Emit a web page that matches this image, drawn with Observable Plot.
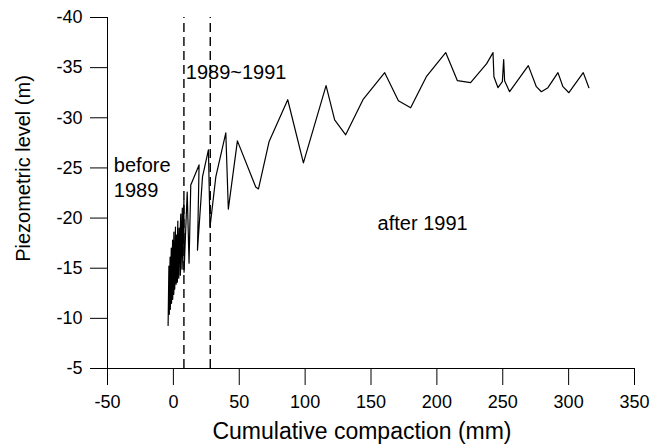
<!DOCTYPE html>
<html><head><meta charset="utf-8">
<script src="https://cdn.jsdelivr.net/npm/d3@7"></script>
<script src="https://cdn.jsdelivr.net/npm/@observablehq/plot@0.6"></script>
<style>
html,body{margin:0;padding:0;background:#fff;}
#chart svg{display:block;}
</style></head><body><div id="chart"></div>
<script>
// Cumulative compaction (mm) and piezometric level (m)
const compaction = [
  -4.0,-3.4,-3.1,-2.5,-2.3,-1.6,-1.4,-0.6,-0.5,0.4,0.3,1.6,1.0,2.4,2.1,3.4,3.0,4.4,4.1,5.6,5.3,6.8,6.6,8.0,8.1,
  10.5,11.9,13.2,19.5,18.3,22.1,26.6,27.8,
  32.2,39.8,41.7,48.6,62.5,64.6,72.6,86.8,98.7,115.9,122.4,130.8,143.9,160.4,170.8,180.1,192.0,206.7,215.6,225.6,
  237.8,242.6,243.3,246.4,249.7,250.7,251.4,255.2,269.4,275.5,279.3,284.3,291.9,295.7,300.2,311.1,315.4
];
const level = [
  -9.3,-15.2,-10.4,-16.1,-10.9,-17.0,-11.5,-17.8,-11.9,-18.6,-12.4,-19.1,-12.9,-18.3,-13.4,-19.7,-13.6,-19.0,-14.0,-20.4,-14.3,-21.0,-14.9,-21.8,-14.6,
  -22.6,-15.5,-23.3,-25.3,-16.8,-24.1,-26.8,-19.1,
  -24.1,-28.5,-20.9,-27.7,-23.1,-22.9,-27.6,-31.8,-25.5,-33.2,-29.8,-28.3,-31.8,-34.5,-31.7,-31.0,-34.1,-36.5,-33.7,-33.5,
  -35.4,-36.5,-34.1,-33.0,-33.6,-35.8,-33.7,-32.6,-35.2,-33.1,-32.6,-33.0,-34.5,-33.1,-32.5,-34.5,-33.0
];
const dividers = [8, 28];
const xTicks = [-50, 0, 50, 100, 150, 200, 250, 300, 350];
const yTicks = [-40, -35, -30, -25, -20, -15, -10, -5];
const periodLabels = ["before\n1989", "1989~1991", "after 1991"];
const labelX = [-45.2, 9.4, 155];
const labelY = [-22.1, -33.9, -18.8];
const xTitle = "Cumulative compaction (mm)";
const yTitle = "Piezometric level (m)";

const font = "'Liberation Sans', Arial, Helvetica, sans-serif";
const idx = d3.range(compaction.length);

const chart = Plot.plot({
  width: 662, height: 446,
  marginLeft: 107, marginRight: 28, marginTop: 17, marginBottom: 78,
  style: {fontFamily: font, background: "#fff", color: "#000"},
  x: {domain: [-50, 350]},
  y: {domain: [-5, -40]},
  marks: [
    Plot.axisX({ticks: xTicks, tickSize: 17, tickPadding: 10, fontSize: 18, tickFormat: d => String(d), label: null}),
    Plot.axisY({ticks: yTicks, tickSize: 17, tickPadding: 8, fontSize: 18, tickFormat: d => String(d), label: null}),
    Plot.ruleY([-5], {stroke: "#000"}),
    Plot.ruleX([-50], {stroke: "#000"}),
    Plot.ruleX(dividers, {y1: -5, y2: -40, stroke: "#000", strokeWidth: 1.4, strokeDasharray: "9,5"}),
    Plot.line(idx, {x: i => compaction[i], y: i => level[i], stroke: "#000", strokeWidth: 1.2}),
    Plot.text(periodLabels, {x: (d, i) => labelX[i], y: (d, i) => labelY[i], text: d => d,
      textAnchor: "start", lineAnchor: "bottom", lineHeight: 1.25, fontSize: 20, fill: "#000"}),
    Plot.text([xTitle], {frameAnchor: "bottom", dx: -9, dy: 63, text: d => d, textAnchor: "middle", lineAnchor: "middle", fontSize: 23, fill: "#000"}),
    Plot.text([yTitle], {frameAnchor: "left", rotate: -90, dx: -83.5, dy: -24.5, text: d => d, textAnchor: "middle", lineAnchor: "middle", fontSize: 20, fill: "#000"})
  ]
});
document.getElementById("chart").appendChild(chart);
</script>
</body></html>
